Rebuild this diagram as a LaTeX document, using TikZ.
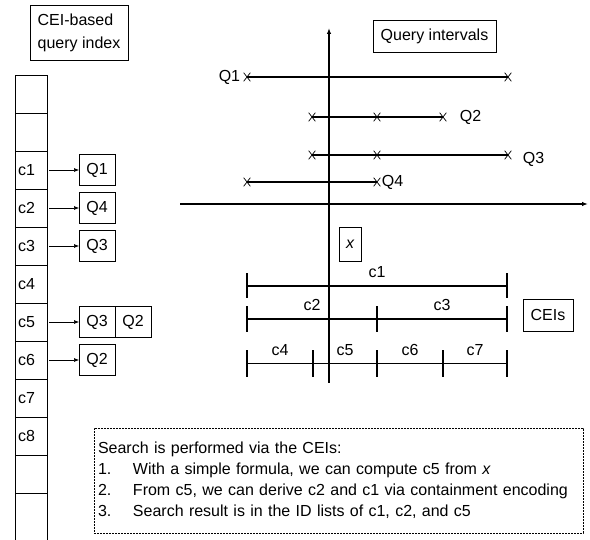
\documentclass[tikz,border=0pt]{standalone}
\usepackage{fontspec}
\setmainfont{Liberation Sans}
\usetikzlibrary{arrows.meta,positioning,shapes.misc}

\begin{document}
\begin{tikzpicture}[
  x=1pt,y=-1pt,
  font=\fontsize{16}{21}\selectfont,
  node distance=0pt and 0pt,
  cell/.style={draw,line width=0.8pt,minimum width=32pt,minimum height=38pt,text width=26pt,inner xsep=3pt,align=left,outer sep=0pt},
  qbox/.style={draw,line width=0.8pt,minimum width=36pt,minimum height=31pt,inner sep=0pt,outer sep=0pt},
  title/.style={draw,line width=0.8pt,align=left,inner sep=0pt},
  arrow/.style={-{Latex[length=5pt,width=4pt]},line width=0.6pt},
  axisline/.style={-{Latex[length=6pt,width=4.5pt]},line width=1.5pt},
  ival/.style={line width=1.6pt},
  endpt/.style={cross out,draw,line width=0.7pt,minimum width=6pt,minimum height=8pt,inner sep=0pt},
  cutbar/.style={fill=black,minimum width=1.6pt,inner sep=0pt,outer sep=0pt},
  cei/.style={line width=1.6pt},
  note/.style={draw,dash pattern=on 2pt off 1pt,line width=0.6pt,align=left,inner xsep=4pt,text width=481pt,minimum width=489pt,minimum height=105pt}
]
\useasboundingbox (0,0) rectangle (590,540);
\clip (0,0) rectangle (590,540);
\node[title,minimum width=98pt,minimum height=55pt] (index) at (79,32.5) {CEI-based\\[2pt]query index};
\node[cell,anchor=north west] (top1) at (15,75) {};
\node[cell,below=of top1] (top2) {};
\node[cell,below=of top2] (c1) {c1};
\node[cell,below=of c1] (c2) {c2};
\node[cell,below=of c2] (c3) {c3};
\node[cell,below=of c3] (c4) {c4};
\node[cell,below=of c4] (c5) {c5};
\node[cell,below=of c5] (c6) {c6};
\node[cell,below=of c6] (c7) {c7};
\node[cell,below=of c7] (c8) {c8};
\node[cell,below=of c8] (bot1) {};
\node[cell,below=of bot1,minimum height=60pt] (bot2) {};
\node[qbox,right=32pt of c1] (q1) {Q1};
\node[qbox,right=32pt of c2] (q4) {Q4};
\node[qbox,right=32pt of c3] (q3) {Q3};
\node[qbox,right=32pt of c5] (q3b) {Q3};
\node[qbox,right=of q3b] (q2b) {Q2};
\node[qbox,right=32pt of c6] (q2) {Q2};
\draw[arrow] ([xshift=2pt]c1.east) -- (q1);
\draw[arrow] ([xshift=2pt]c2.east) -- (q4);
\draw[arrow] ([xshift=2pt]c3.east) -- (q3);
\draw[arrow] ([xshift=2pt]c5.east) -- (q3b);
\draw[arrow] ([xshift=2pt]c6.east) -- (q2);
\coordinate (ybot) at (329,383);
\coordinate (ytop) at (329,28);
\coordinate (xleft) at (180,204);
\coordinate (xright) at (588,204);
\draw[axisline] (ybot) -- (ytop);
\draw[axisline] (xleft) -- (xright);
\node[title,align=center,minimum width=123pt,minimum height=32pt] (qint) at (434.5,36) {Query intervals};
\node[endpt] (q1s) at (247,77) {};
\node[endpt] (q1e) at (508,77) {};
\draw[ival] (q1s.center) -- (q1e.center);
\node[left=0pt of q1s] (q1l) {Q1};
\node[endpt] (q2s) at (312,117) {};
\node[endpt] (q2m) at (377,117) {};
\node[endpt] (q2e) at (443,117) {};
\draw[ival] (q2s.center) -- (q2e.center);
\node[right=10pt of q2e] (q2l) {Q2};
\node[endpt] (q3s) at (312,155) {};
\node[endpt] (q3m) at (377,155) {};
\node[endpt] (q3e) at (508,155) {};
\draw[ival] (q3s.center) -- (q3e.center);
\node[right=8pt of q3e,yshift=-4pt] (q3l) {Q3};
\node[endpt] (q4s) at (247,182) {};
\node[endpt] (q4e) at (377,182) {};
\draw[ival] (q4s.center) -- (q4e.center);
\node[right=-2pt of q4e] (q4l) {Q4};
\node[title,align=center,minimum width=22pt,minimum height=34pt] (xval) at (350,244) {\itshape x};
\node[cutbar,minimum height=25pt] (r1a) at (247,286) {};
\node[cutbar,minimum height=25pt] (r1b) at (507,286) {};
\draw[cei] (r1a.center) -- node[above=4pt] {c1} (r1b.center);
\node[cutbar,minimum height=26pt] (r2a) at (247,319) {};
\node[cutbar,minimum height=26pt] (r2b) at (377,319) {};
\node[cutbar,minimum height=26pt] (r2c) at (507,319) {};
\draw[cei] (r2a.center) -- node[above=4pt] {c2} (r2b.center);
\draw[cei] (r2b.center) -- node[above=4pt] {c3} (r2c.center);
\node[cutbar,minimum height=27pt] (r3a) at (247,363.5) {};
\node[cutbar,minimum height=27pt] (r3b) at (313,363.5) {};
\node[cutbar,minimum height=27pt] (r3c) at (377,363.5) {};
\node[cutbar,minimum height=27pt] (r3d) at (443,363.5) {};
\node[cutbar,minimum height=27pt] (r3e) at (507,363.5) {};
\draw[cei] (r3a.center) -- node[above=4pt] {c4} (r3b.center);
\draw[cei] (r3b.center) -- node[above=4pt] {c5} (r3c.center);
\draw[cei] (r3c.center) -- node[above=4pt] {c6} (r3d.center);
\draw[cei] (r3d.center) -- node[above=4pt] {c7} (r3e.center);
\node[title,align=center,minimum width=50pt,minimum height=32pt] (ceis) at (548,315) {CEIs};
\node[note] (steps) at (338.5,480.5) {Search is performed via the CEIs:\\
\makebox[35pt][l]{1.}With a simple formula, we can compute c5 from \textit{x}\\
\makebox[35pt][l]{2.}From c5, we can derive c2 and c1 via containment encoding\\
\makebox[35pt][l]{3.}Search result is in the ID lists of c1, c2, and c5};
\end{tikzpicture}
\end{document}
